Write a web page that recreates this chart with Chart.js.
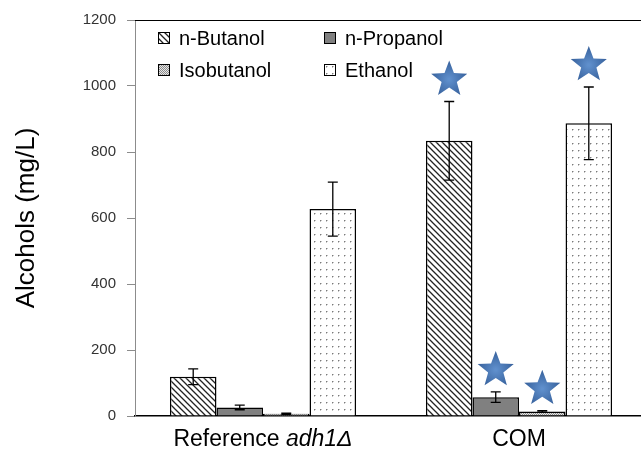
<!DOCTYPE html>
<html>
<head>
<meta charset="utf-8">
<script src="https://cdn.jsdelivr.net/npm/chart.js@4/dist/chart.umd.min.js"></script>
<style>
  html, body { margin: 0; padding: 0; background: #fff; overflow: hidden; }
  #wrap { width: 641px; height: 452px; overflow: hidden; }
</style>
</head>
<body>
<div id="wrap"><canvas id="chart" width="647" height="452"></canvas></div>
<script>
// data
const categories = ["Reference adh1Δ", "COM"];
const italicPart = "adh1Δ";
const seriesNames = ["n-Butanol", "n-Propanol", "Isobutanol", "Ethanol"];
const butanol = [119, 834];
const propanol = [26, 57];
const isobutanol = [7, 14];
const ethanol = [627, 887];
const butanolErr = [24, 119];
const propanolErr = [7, 16];
const isobutanolErr = [2, 2];
const ethanolErr = [82, 110];
// significance stars (COM only)
const butanolStar = [false, true];
const propanolStar = [false, true];
const isobutanolStar = [false, true];
const ethanolStar = [false, true];
const yTicks = [0, 200, 400, 600, 800, 1000, 1200];

function makePattern(w, h, draw) {
  const c = document.createElement("canvas");
  c.width = w; c.height = h;
  const g = c.getContext("2d");
  draw(g, w, h);
  return g.createPattern(c, "repeat");
}

const hatch = makePattern(6, 6, (g, w, h) => {
  g.fillStyle = "#fff"; g.fillRect(0, 0, w, h);
  g.strokeStyle = "#222"; g.lineWidth = 1.3;
  g.beginPath();
  g.moveTo(-1, -1); g.lineTo(w + 1, h + 1);
  g.moveTo(-1 - w, -1); g.lineTo(1, h + 1);
  g.moveTo(w - 1, -1); g.lineTo(2 * w + 1, h + 1);
  g.stroke();
});
const fineDots = makePattern(2, 2, (g) => {
  g.fillStyle = "#e6e6e6"; g.fillRect(0, 0, 2, 2);
  g.fillStyle = "#8c8c8c"; g.fillRect(0, 0, 1, 1); g.fillRect(1, 1, 1, 1);
});
const sparseDots = makePattern(6, 7, (g) => {
  g.fillStyle = "#fff"; g.fillRect(0, 0, 6, 7);
  g.fillStyle = "#7a7a7a";
  g.fillRect(2, 3, 1, 1);
  g.fillStyle = "#c4c4c4";
  g.fillRect(3, 3, 1, 1); g.fillRect(2, 4, 1, 1);
});

const fills = [hatch, "#808080", fineDots, sparseDots];
const values = [butanol, propanol, isobutanol, ethanol];
const errors = [butanolErr, propanolErr, isobutanolErr, ethanolErr];
const stars = [butanolStar, propanolStar, isobutanolStar, ethanolStar];

const errorBars = {
  id: "errorBars",
  afterDatasetsDraw(chart) {
    const ctx = chart.ctx, y = chart.scales.y;
    ctx.save();
    ctx.strokeStyle = "#000"; ctx.lineWidth = 1.3;
    chart.data.datasets.forEach((ds, i) => {
      chart.getDatasetMeta(i).data.forEach((bar, j) => {
        const v = ds.data[j], e = ds.errors[j];
        const top = y.getPixelForValue(v + e), bot = y.getPixelForValue(v - e);
        ctx.beginPath();
        ctx.moveTo(bar.x, top); ctx.lineTo(bar.x, bot);
        ctx.moveTo(bar.x - 5, top); ctx.lineTo(bar.x + 5, top);
        ctx.moveTo(bar.x - 5, bot); ctx.lineTo(bar.x + 5, bot);
        ctx.stroke();
      });
    });
    ctx.restore();
  }
};

function drawStar(ctx, cx, cy, R, r) {
  ctx.beginPath();
  for (let k = 0; k < 10; k++) {
    const rad = k % 2 === 0 ? R : r;
    const a = -Math.PI / 2 + k * Math.PI / 5;
    const px = cx + rad * Math.cos(a), py = cy + rad * Math.sin(a);
    if (k === 0) ctx.moveTo(px, py); else ctx.lineTo(px, py);
  }
  ctx.closePath();
  const grad = ctx.createRadialGradient(cx, cy, 1, cx, cy, R);
  grad.addColorStop(0, "#5f8fcc");
  grad.addColorStop(1, "#36609b");
  ctx.fillStyle = grad;
  ctx.fill();
}

const starMarks = {
  id: "starMarks",
  afterDatasetsDraw(chart) {
    const ctx = chart.ctx, y = chart.scales.y;
    ctx.save();
    chart.data.datasets.forEach((ds, i) => {
      chart.getDatasetMeta(i).data.forEach((bar, j) => {
        if (!ds.stars[j]) return;
        const top = y.getPixelForValue(ds.data[j] + ds.errors[j]);
        drawStar(ctx, bar.x, top - 22, 19, 8);
      });
    });
    ctx.restore();
  }
};

const frame = {
  id: "frame",
  afterDraw(chart) {
    const ctx = chart.ctx, a = chart.chartArea;
    ctx.save();
    ctx.strokeStyle = "#000"; ctx.lineWidth = 1;
    ctx.beginPath();
    ctx.moveTo(a.left, a.top + 0.5); ctx.lineTo(a.right, a.top + 0.5);
    ctx.stroke();

    // category labels with the italic gene name
    const x = chart.scales.x;
    const f = "23px 'Liberation Sans', Arial, sans-serif";
    ctx.fillStyle = "#000";
    ctx.textBaseline = "middle";
    ctx.textAlign = "left";
    categories.forEach((lab, i) => {
      const cx = x.getPixelForValue(i);
      const k = lab.indexOf(italicPart);
      const plain = k >= 0 ? lab.slice(0, k) : lab;
      const ital = k >= 0 ? italicPart : "";
      ctx.font = f;
      const w1 = ctx.measureText(plain).width;
      ctx.font = "italic " + f;
      const w2 = ital ? ctx.measureText(ital).width : 0;
      const sx = cx - (w1 + w2) / 2;
      ctx.font = f;
      ctx.fillText(plain, sx, 440);
      if (ital) {
        ctx.font = "italic " + f;
        ctx.fillText(ital, sx + w1, 440);
      }
    });

    // legend, two columns inside the plot
    const cols = [158, 324], rows = [38, 70];
    ctx.font = "20px 'Liberation Sans', Arial, sans-serif";
    chart.data.datasets.forEach((ds, i) => {
      const bx = cols[i % 2], by = rows[Math.floor(i / 2)];
      ctx.fillStyle = ds.backgroundColor;
      ctx.fillRect(bx, by - 6, 12, 12);
      ctx.strokeStyle = "#000"; ctx.lineWidth = 1;
      ctx.strokeRect(bx + 0.5, by - 5.5, 11, 11);
      ctx.fillStyle = "#000";
      ctx.fillText(ds.label, bx + 21, by + 1);
    });
    ctx.restore();
  }
};

new Chart(document.getElementById("chart"), {
  type: "bar",
  data: {
    labels: categories,
    datasets: seriesNames.map((name, i) => ({
      label: name,
      data: values[i],
      errors: errors[i],
      stars: stars[i],
      backgroundColor: fills[i],
      borderColor: "#000",
      borderWidth: 1.5,
      categoryPercentage: 0.727,
      barPercentage: 1.0,
    })),
  },
  options: {
    responsive: false,
    animation: false,
    layout: { padding: { top: 20, left: 0, right: 0, bottom: 0 } },
    plugins: {
      legend: { display: false },
      tooltip: { enabled: false },
    },
    scales: {
      x: {
        grid: { display: false },
        border: { color: "#000", width: 1.5 },
        ticks: { display: false },
        afterFit(s) { s.height = 36; },
      },
      y: {
        min: 0,
        max: 1200,
        afterBuildTicks(s) { s.ticks = yTicks.map(v => ({ value: v })); },
        grid: { drawOnChartArea: false, tickLength: 8, color: "#8c8c8c" },
        border: { color: "#8c8c8c", width: 1 },
        ticks: {
          padding: 11,
          color: "#333",
          font: { family: "'Liberation Sans', Arial, sans-serif", size: 15 },
          callback: v => String(v),
        },
        title: {
          display: true,
          text: "Alcohols (mg/L)",
          color: "#000",
          font: { family: "'Liberation Sans', Arial, sans-serif", size: 26 },
          padding: { top: 11, bottom: 0 },
        },
        afterFit(s) { s.width = 135; },
      },
    },
  },
  plugins: [errorBars, starMarks, frame],
});
</script>
</body>
</html>
